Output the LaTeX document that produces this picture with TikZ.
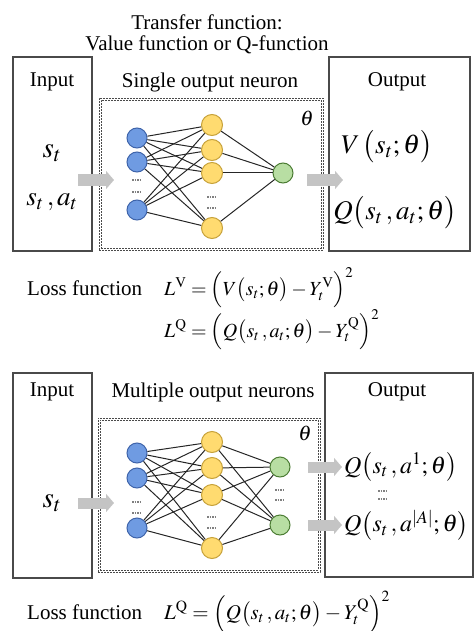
\documentclass[tikz,border=0pt]{standalone}
\usepackage{mathptmx}
\usepackage{fontspec}
\setmainfont{Liberation Serif}
\usetikzlibrary{arrows.meta}
\definecolor{nblue}{HTML}{6F9BE2}
\definecolor{nblueB}{HTML}{3F64AA}
\definecolor{nyellow}{HTML}{FFDB70}
\definecolor{nyellowB}{HTML}{C7A23A}
\definecolor{ngreen}{HTML}{B8DEA3}
\definecolor{ngreenB}{HTML}{4C7D34}
\definecolor{arrowgray}{HTML}{C4C4C4}
\definecolor{boxline}{HTML}{4A4A4A}
\newcommand{\txtsz}{\fontsize{21}{24}\selectfont}
\newcommand{\mathsz}{\fontsize{27}{30}\selectfont}
\begin{document}
\begin{tikzpicture}[x=1pt,y=-1pt,
  framebox/.style={draw=boxline, line width=1.3pt, inner sep=0pt},
  netbox/.style={draw=boxline, line width=0.7pt, dash pattern=on 2pt off 1pt, inner sep=0pt},
  lbl/.style={inner sep=0pt, font=\txtsz},
  bneu/.style={circle, minimum size=20pt, inner sep=0pt, fill=nblue, draw=nblueB, line width=1pt},
  yneu/.style={circle, minimum size=21pt, inner sep=0pt, fill=nyellow, draw=nyellowB, line width=1pt},
  gneu/.style={circle, minimum size=20pt, inner sep=0pt, fill=ngreen, draw=ngreenB, line width=1pt},
  wire/.style={draw=black!85, line width=1pt},
  dotsline/.style={draw=gray, line width=1.2pt, dash pattern=on 1.5pt off 1pt},
  bigarrow/.style={draw=arrowgray, line width=11pt, -{Triangle[length=8pt,width=18pt]}}
]
\useasboundingbox (0,0) rectangle (475,631);

% ---------------- TOP ----------------
\node[lbl] (t1) at (207,22) {Transfer function:};
\node[lbl] (t2) at (207,45) {Value function or Q-function};

\node[framebox, minimum width=79pt, minimum height=194pt] (in1) at (52.5,154) {};
\node[framebox, minimum width=141pt, minimum height=194pt] (out1) at (399.5,154) {};
\node[netbox, minimum width=224pt, minimum height=152pt] (net1) at (211,174) {};
\node[netbox, minimum width=220pt, minimum height=148pt] (net1i) at (211,174) {};

\node[lbl] (inl1) at (52,82) {Input};
\node[lbl] (netl1) at (210,82) {Single output neuron};
\node[lbl] (outl1) at (397,82) {Output};
\node[inner sep=0pt] (th1) at (307,118) {\fontsize{21}{24}\selectfont$\theta$};

\node[inner sep=0pt] (x1a) at (52,153) {\fontsize{29}{32}\selectfont$s_t$};
\node[inner sep=0pt] (x1b) at (52,202) {\fontsize{27}{30}\selectfont$s_t\,,a_t$};

\node[bneu] (b11) at (137,138) {};
\node[bneu] (b12) at (137,162) {};
\node[bneu] (b13) at (137,210) {};
\node[yneu] (y11) at (212,125) {};
\node[yneu] (y12) at (212,150) {};
\node[yneu] (y13) at (212,173) {};
\node[yneu] (y14) at (212,228) {};
\node[gneu] (g11) at (283,173) {};

\foreach \b in {b11,b12,b13}
  \foreach \y in {y11,y12,y13,y14}
    \draw[wire] (\b) -- (\y);
\foreach \y in {y11,y12,y13,y14}
  \draw[wire] (\y) -- (g11);

\draw[dotsline] (132,180) -- (142,180);
\draw[dotsline] (132,192) -- (142,192);
\draw[dotsline] (207,197) -- (217,197);
\draw[dotsline] (207,208) -- (217,208);

\coordinate (ia1s) at (78,180);
\coordinate (ia1e) at (114,180);
\draw[bigarrow] (ia1s) -- (ia1e);
\coordinate (oa1s) at (307,180);
\coordinate (oa1e) at (343,180);
\draw[bigarrow] (oa1s) -- (oa1e);

\node[inner sep=0pt] (v1) at (387,147) {\mathsz$V\,\bigl(s_t;\theta\bigr)$};
\node[inner sep=0pt] (q1) at (395,213) {\mathsz$Q\bigl(s_t\,,a_t;\theta\bigr)$};

% loss top
\node[lbl, anchor=west] (loss1) at (27,288) {Loss function};
\node[inner sep=0pt, anchor=west] (lv) at (164,288) {\fontsize{20}{24}\selectfont$L^{\mathrm{V}}=\Bigl(V\bigl(s_t;\theta\bigr)-Y_t^{\mathrm{V}}\Bigr)^2$};
\node[inner sep=0pt, anchor=west] (lq) at (164,330) {\fontsize{20}{24}\selectfont$L^{\mathrm{Q}}=\Bigl(Q\bigl(s_t\,,a_t;\theta\bigr)-Y_t^{\mathrm{Q}}\Bigr)^2$};

% ---------------- BOTTOM ----------------
\node[framebox, minimum width=79pt, minimum height=205pt] (in2) at (52.5,475.5) {};
\node[framebox, minimum width=148pt, minimum height=204pt] (out2) at (399,475) {};
\node[netbox, minimum width=222pt, minimum height=154pt] (net2) at (209,495) {};
\node[netbox, minimum width=218pt, minimum height=150pt] (net2i) at (209,495) {};

\node[lbl] (inl2) at (52,392) {Input};
\node[lbl] (netl2) at (213,392) {Multiple output neurons};
\node[lbl] (outl2) at (397,392) {Output};
\node[inner sep=0pt] (th2) at (305,433) {\fontsize{21}{24}\selectfont$\theta$};

\node[inner sep=0pt] (x2) at (52,503) {\fontsize{29}{32}\selectfont$s_t$};

\node[bneu] (b21) at (137,453) {};
\node[bneu] (b22) at (137,478) {};
\node[bneu] (b23) at (137,528) {};
\node[yneu] (y21) at (212,442) {};
\node[yneu] (y22) at (212,468) {};
\node[yneu] (y23) at (212,495) {};
\node[yneu] (y24) at (212,548) {};
\node[gneu] (g21) at (280,467) {};
\node[gneu] (g22) at (280,525) {};

\foreach \b in {b21,b22,b23}
  \foreach \y in {y21,y22,y23,y24}
    \draw[wire] (\b) -- (\y);
\foreach \y in {y21,y22,y23,y24}
  \foreach \g in {g21,g22}
    \draw[wire] (\y) -- (\g);

\draw[dotsline] (132,502) -- (142,502);
\draw[dotsline] (132,513) -- (142,513);
\draw[dotsline] (207,517) -- (217,517);
\draw[dotsline] (207,528) -- (217,528);
\draw[dotsline] (275,490) -- (285,490);
\draw[dotsline] (275,500) -- (285,500);

\coordinate (ia2s) at (78,503);
\coordinate (ia2e) at (114,503);
\draw[bigarrow] (ia2s) -- (ia2e);
\coordinate (oa2s) at (308,467);
\coordinate (oa2e) at (342,467);
\draw[bigarrow] (oa2s) -- (oa2e);
\coordinate (oa3s) at (308,525);
\coordinate (oa3e) at (342,525);
\draw[bigarrow] (oa3s) -- (oa3e);

\node[inner sep=0pt, anchor=west] (q21) at (344,467) {\fontsize{24}{28}\selectfont$Q\bigl(s_t\,,a^{1};\theta\bigr)$};
\node[inner sep=0pt, anchor=west] (q22) at (344,525) {\fontsize{24}{28}\selectfont$Q\bigl(s_t\,,a^{|A|};\theta\bigr)$};
\draw[dotsline] (378,491) -- (386,491);
\draw[dotsline] (378,499) -- (386,499);

\node[lbl, anchor=west] (loss2) at (27,612) {Loss function};
\node[inner sep=0pt, anchor=west] (lq2) at (164,612) {\fontsize{21}{24}\selectfont$L^{\mathrm{Q}}=\Bigl(Q\bigl(s_t\,,a_t;\theta\bigr)-Y_t^{\mathrm{Q}}\Bigr)^2$};
\end{tikzpicture}
\end{document}
